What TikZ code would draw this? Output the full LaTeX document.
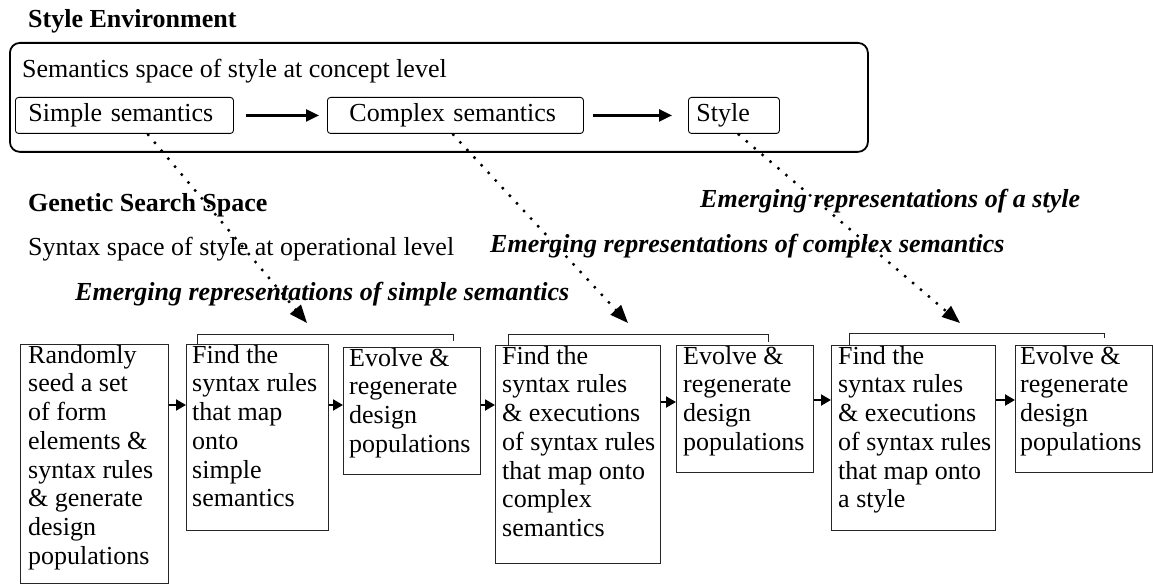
\documentclass[tikz,border=0pt]{standalone}
\usepackage{fontspec}
\setmainfont{Liberation Serif}
\usetikzlibrary{arrows.meta,calc}
\tikzset{
  heading/.style={anchor=base west, inner sep=0pt, font=\fontsize{26}{28.7}\selectfont\bfseries},
  plaintext/.style={anchor=base west, inner sep=0pt},
  emerge/.style={anchor=base west, inner sep=0pt, font=\fontsize{26}{28.7}\selectfont\bfseries\itshape},
  envbox/.style={draw, line width=1.8pt, rounded corners=10pt, anchor=north west, inner sep=0pt},
  sembox/.style={draw, line width=0.9pt, rounded corners=3pt, minimum height=36pt,
    inner ysep=0pt, align=left, anchor=north west},
  procbox/.style={draw=black!85, line width=1.2pt, anchor=north west, inner sep=0pt},
  proctext/.style={anchor=north west, inner sep=0pt, align=left},
  flow/.style={line width=2.2pt, -{Triangle[length=13pt,width=12pt]}},
  linkarrow/.style={line width=2pt, -{Triangle[length=10pt,width=11pt]}},
  bracket/.style={line width=1pt, draw=black!85},
  emergelink/.style={line width=2.4pt, dash pattern=on 2.4pt off 8pt,
    -{Triangle[length=18pt,width=14pt]}}
}
\begin{document}
\begin{tikzpicture}[x=1pt, y=-1pt, font=\fontsize{26}{28.7}\selectfont]
\useasboundingbox (0,0) rectangle (1153,585);

% ---- concept level ----
\node[heading] (envtitle) at (28,28) {Style Environment};
\node[envbox, minimum width=858pt, minimum height=109pt] (env) at (9,42) {};
\node[plaintext] (envsub) at (22,78) {Semantics space of style at concept level};

\node[sembox, inner xsep=13pt, text width=192pt] (simple) at (15,97) {Simple semantics};
\node[sembox, inner xsep=22pt, text width=212pt] (complex) at (327,97) {Complex semantics};
\node[sembox, inner xsep=8pt, text width=75pt] (style) at (688,97) {Style};

\draw[flow, shorten <=12pt, shorten >=8pt] (simple.east) -- (complex.west);
\draw[flow, shorten <=9pt, shorten >=16pt] (complex.east) -- (style.west);

% ---- operational level ----
\node[heading] (gentitle) at (28,212) {Genetic Search Space};
\node[plaintext] (gensub) at (28,256) {Syntax space of style at operational level};

\node[emerge] (emstyle) at (700,208) {Emerging representations of a style};
\node[emerge] (emcomplex) at (490,253) {Emerging representations of complex semantics};
\node[emerge] (emsimple) at (75,300) {Emerging representations of simple semantics};

% process boxes
\node[procbox, minimum width=148pt, minimum height=239pt] (b1) at (20,344) {};
\node[procbox, minimum width=142pt, minimum height=186pt] (b2) at (186,344) {};
\node[procbox, minimum width=137pt, minimum height=127pt] (b3) at (343,347) {};
\node[procbox, minimum width=165pt, minimum height=218pt] (b4) at (495,345) {};
\node[procbox, minimum width=137pt, minimum height=127pt] (b5) at (676,345) {};
\node[procbox, minimum width=164pt, minimum height=185pt] (b6) at (831,345) {};
\node[procbox, minimum width=137pt, minimum height=127pt] (b7) at (1015,345) {};

\node[proctext] (t1text) at ([xshift=8pt,yshift=-1pt]b1.north west)
  {Randomly\\seed a set\\of form\\elements \&\\syntax rules\\\& generate\\design\\populations};
\node[proctext] (t2text) at ([xshift=6pt,yshift=-1pt]b2.north west)
  {Find the\\syntax rules\\that map\\onto\\simple\\semantics};
\node[proctext] (t3text) at ([xshift=6pt,yshift=-1pt]b3.north west)
  {Evolve \&\\regenerate\\design\\populations};
\node[proctext] (t4text) at ([xshift=7pt,yshift=-1pt]b4.north west)
  {Find the\\syntax rules\\\& executions\\of syntax rules\\that map onto\\complex\\semantics};
\node[proctext] (t5text) at ([xshift=7pt,yshift=-1pt]b5.north west)
  {Evolve \&\\regenerate\\design\\populations};
\node[proctext] (t6text) at ([xshift=7pt,yshift=-1pt]b6.north west)
  {Find the\\syntax rules\\\& executions\\of syntax rules\\that map onto\\a style};
\node[proctext] (t7text) at ([xshift=5pt,yshift=-1pt]b7.north west)
  {Evolve \&\\regenerate\\design\\populations};

% arrows between process boxes
\coordinate (a1) at ($(b1.north east)+(0,61)$);
\coordinate (a2) at ($(b2.north east)+(0,61)$);
\coordinate (a3) at ($(b3.north east)+(0,58)$);
\coordinate (a4) at ($(b4.north east)+(0,57)$);
\coordinate (a5) at ($(b5.north east)+(0,55)$);
\coordinate (a6) at ($(b6.north east)+(0,55)$);
\draw[linkarrow] (a1) -- (a1 -| b2.west);
\draw[linkarrow] (a2) -- (a2 -| b3.west);
\draw[linkarrow] (a3) -- (a3 -| b4.west);
\draw[linkarrow] (a4) -- (a4 -| b5.west);
\draw[linkarrow] (a5) -- (a5 -| b6.west);
\draw[linkarrow] (a6) -- (a6 -| b7.west);

% brackets grouping each search stage
\draw[bracket] ([xshift=11pt]b2.north west) -- ++(0,-10) -| ([xshift=-28pt,yshift=6pt]b3.north east);
\draw[bracket] ([xshift=13pt]b4.north west) -- ++(0,-11) -| ([xshift=-46pt,yshift=3pt]b5.north east);
\draw[bracket] ([xshift=18pt]b6.north west) -- ++(0,-12) -| ([xshift=-49pt,yshift=7pt]b7.north east);

% emerging representations
\coordinate (tip1) at (307,323);
\coordinate (tip2) at (628,323);
\coordinate (tip3) at (960,323);
\draw[emergelink] ([xshift=23pt]simple.south) -- (tip1);
\draw[emergelink] ([xshift=-3pt]complex.south) -- (tip2);
\draw[emergelink] ([xshift=4pt]style.south) -- (tip3);
\end{tikzpicture}
\end{document}
